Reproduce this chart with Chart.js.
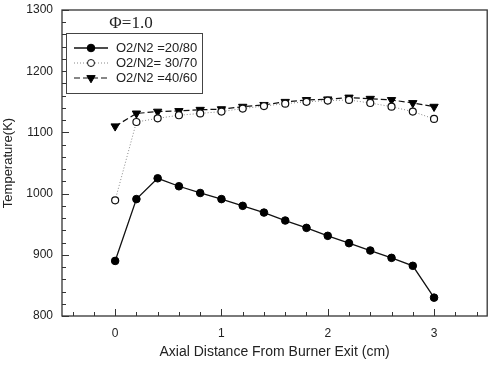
<!DOCTYPE html>
<html>
<head>
<meta charset="utf-8">
<script src="https://cdn.jsdelivr.net/npm/chart.js@4.4.1/dist/chart.umd.min.js"></script>
<style>
  html, body { margin: 0; padding: 0; background: #fff; }
  #wrap { width: 493px; height: 371px; }
</style>
</head>
<body>
<div id="wrap"><canvas id="tempChart"></canvas></div>
<script>
// distance from burner exit (cm)
const distances = [0, 0.2, 0.4, 0.6, 0.8, 1.0, 1.2, 1.4, 1.6, 1.8, 2.0, 2.2, 2.4, 2.6, 2.8, 3.0];

// temperature (K) per O2/N2 ratio
const temp2080 = [890, 991, 1025, 1012, 1001, 991, 980, 969, 956, 944, 931, 919, 907, 895, 882, 830];
const temp3070 = [989, 1117, 1123, 1128, 1131, 1134, 1139, 1143, 1147, 1150, 1152, 1153, 1148, 1142, 1134, 1122];
const temp4060 = [1110, 1131, 1134, 1135, 1137, 1138, 1142, 1145, 1150, 1153, 1154, 1157, 1155, 1153, 1148, 1142];

const seriesLabels = ['O2/N2 =20/80', 'O2/N2= 30/70', 'O2/N2 =40/60'];

// axis ticks
const xTicks = [-0.4, -0.2, 0, 0.2, 0.4, 0.6, 0.8, 1, 1.2, 1.4, 1.6, 1.8, 2, 2.2, 2.4, 2.6, 2.8, 3, 3.2, 3.4];
const xLabels = [0, 1, 2, 3];
const yLabels = [800, 900, 1000, 1100, 1200, 1300];

const toPoints = (vals) => distances.map((d, i) => ({ x: d, y: vals[i] }));

// frame + inward ticks like the original plot
const framePlugin = {
    id: 'frame',
    afterDatasetsDraw(chart) {
        const ctx = chart.ctx;
        const a = chart.chartArea;
        const xs = chart.scales.x;
        const ys = chart.scales.y;
        ctx.save();
        ctx.strokeStyle = '#333';
        ctx.lineWidth = 1.3;
        ctx.strokeRect(a.left, a.top, a.right - a.left, a.bottom - a.top);
        ctx.lineWidth = 1;
        xs.ticks.forEach(t => {
            const px = Math.round(xs.getPixelForValue(t.value)) + 0.5;
            const len = xLabels.some(v => Math.abs(v - t.value) < 1e-6) ? 7 : 4;
            ctx.beginPath();
            ctx.moveTo(px, a.bottom);
            ctx.lineTo(px, a.bottom - len);
            ctx.stroke();
        });
        ys.ticks.forEach(t => {
            const py = Math.round(ys.getPixelForValue(t.value)) + 0.5;
            const len = yLabels.includes(t.value) ? 7 : 4;
            ctx.beginPath();
            ctx.moveTo(a.left, py);
            ctx.lineTo(a.left + len, py);
            ctx.stroke();
        });
        ctx.restore();
    }
};

// legend box + phi label inside the plot
const legendPlugin = {
    id: 'boxLegend',
    afterDraw(chart) {
        const ctx = chart.ctx;
        ctx.save();
        ctx.fillStyle = '#222';
        ctx.font = '17px "Liberation Serif", "DejaVu Serif", serif';
        ctx.textAlign = 'center';
        ctx.textBaseline = 'middle';
        ctx.fillText('\u03A6=1.0', 131, 24);

        ctx.fillStyle = '#fff';
        ctx.fillRect(66, 33.5, 137, 60);
        ctx.strokeStyle = '#444';
        ctx.lineWidth = 1;
        ctx.strokeRect(66.5, 33.5, 136, 60);

        const rows = [48, 63, 78];
        chart.data.datasets.forEach((ds, i) => {
            const y = rows[i];
            ctx.save();
            ctx.strokeStyle = ds.borderColor;
            ctx.lineWidth = ds.borderWidth;
            ctx.setLineDash(ds.borderDash || []);
            ctx.beginPath();
            ctx.moveTo(74, y);
            ctx.lineTo(108, y);
            ctx.stroke();
            ctx.restore();
            ctx.save();
            ctx.fillStyle = ds.pointBackgroundColor;
            ctx.strokeStyle = ds.pointBorderColor;
            ctx.lineWidth = 1;
            Chart.helpers.drawPoint(ctx, {
                pointStyle: ds.pointStyle,
                rotation: ds.pointRotation || 0,
                radius: ds.pointRadius,
                borderWidth: 1
            }, 91, y);
            ctx.restore();
            ctx.fillStyle = '#222';
            ctx.font = '13px "Liberation Sans", Arial, sans-serif';
            ctx.textAlign = 'left';
            ctx.fillText(ds.label, 116, y + 0.5);
        });
        ctx.restore();
    }
};

const noScalePadding = (scale) => {
    scale.paddingTop = 0;
    scale.paddingBottom = 0;
    scale.paddingLeft = 0;
    scale.paddingRight = 0;
};

class TemperatureChart {
    constructor() {
        this.chart = null;
        this.init();
    }

    init() {
        const ctx = document.getElementById('tempChart');
        this.chart = new Chart(ctx, {
            type: 'line',
            data: {
                datasets: [{
                    label: seriesLabels[0],
                    data: toPoints(temp2080),
                    borderColor: '#111',
                    borderWidth: 1.3,
                    pointStyle: 'circle',
                    pointRadius: 3.8,
                    pointBackgroundColor: '#000',
                    pointBorderColor: '#000',
                    pointBorderWidth: 1
                }, {
                    label: seriesLabels[1],
                    data: toPoints(temp3070),
                    borderColor: '#888',
                    borderWidth: 1,
                    borderDash: [1, 2],
                    pointStyle: 'circle',
                    pointRadius: 3.5,
                    pointBackgroundColor: '#fff',
                    pointBorderColor: '#111',
                    pointBorderWidth: 1.2
                }, {
                    label: seriesLabels[2],
                    data: toPoints(temp4060),
                    borderColor: '#111',
                    borderWidth: 1.2,
                    borderDash: [6, 3],
                    pointStyle: 'triangle',
                    pointRotation: 180,
                    pointRadius: 4.8,
                    pointBackgroundColor: '#000',
                    pointBorderColor: '#000',
                    pointBorderWidth: 1
                }]
            },
            options: {
                responsive: true,
                maintainAspectRatio: false,
                animation: false,
                layout: { padding: { top: 10, right: 5, bottom: 8, left: 0 } },
                scales: {
                    x: {
                        type: 'linear',
                        min: -0.5,
                        max: 3.5,
                        afterBuildTicks: (scale) => {
                            scale.ticks = xTicks.map(v => ({ value: v }));
                        },
                        afterFit: (scale) => {
                            scale.height = 47;
                            noScalePadding(scale);
                        },
                        grid: { display: false, drawTicks: false },
                        border: { display: false },
                        ticks: {
                            autoSkip: false,
                            maxRotation: 0,
                            padding: 10,
                            color: '#222',
                            font: { family: '"Liberation Sans", Arial, sans-serif', size: 12 },
                            callback: (v) => xLabels.some(l => Math.abs(l - v) < 1e-6) ? Math.round(v) : ''
                        },
                        title: {
                            display: true,
                            text: 'Axial Distance From Burner Exit (cm)',
                            color: '#222',
                            padding: { top: 4, bottom: 2 },
                            font: { family: '"Liberation Sans", Arial, sans-serif', size: 14 }
                        }
                    },
                    y: {
                        min: 800,
                        max: 1300,
                        afterFit: (scale) => {
                            scale.width = 62;
                            noScalePadding(scale);
                        },
                        grid: { display: false, drawTicks: false },
                        border: { display: false },
                        ticks: {
                            stepSize: 20,
                            autoSkip: false,
                            padding: 9,
                            color: '#222',
                            font: { family: '"Liberation Sans", Arial, sans-serif', size: 12 },
                            callback: (v) => yLabels.includes(v) ? v : ''
                        },
                        title: {
                            display: true,
                            text: 'Temperature(K)',
                            color: '#222',
                            padding: { top: 1, bottom: 0 },
                            font: { family: '"Liberation Sans", Arial, sans-serif', size: 13 }
                        }
                    }
                },
                plugins: {
                    legend: { display: false },
                    tooltip: { enabled: false }
                }
            },
            plugins: [framePlugin, legendPlugin]
        });
    }
}

document.addEventListener('DOMContentLoaded', () => {
    window.temperatureChart = new TemperatureChart();
});
</script>
</body>
</html>
